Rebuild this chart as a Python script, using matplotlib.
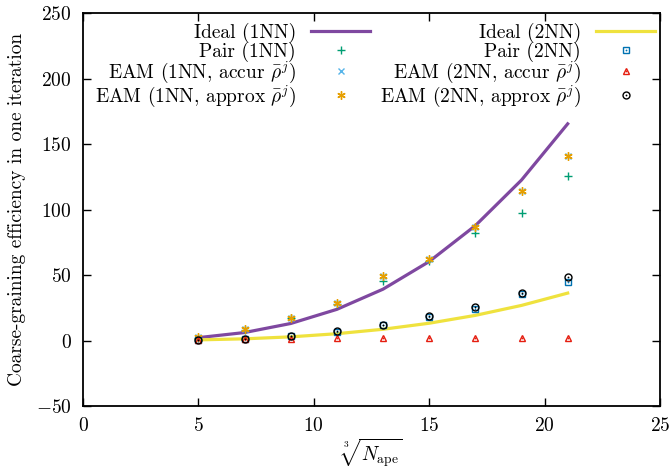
import matplotlib
matplotlib.use("Agg")
import matplotlib.pyplot as plt

plt.rcParams['font.family'] = ['cmr10']
plt.rcParams['mathtext.fontset'] = 'cm'
plt.rcParams['axes.formatter.use_mathtext'] = True
plt.rcParams['font.size'] = 14

# cube root of the number of atoms per element
n_root = [5, 7, 9, 11, 13, 15, 17, 19, 21]

ideal_1nn = [2.2, 6.1, 13.0, 23.8, 39.2, 60.3, 87.7, 122.5, 165.4]
pair_1nn = [2.0, 8.4, 17.0, 27.5, 45.8, 61.0, 82.4, 97.5, 125.4]
eam_1nn_accur = [3.0, 8.6, 17.2, 29.0, 49.4, 62.0, 86.8, 114.5, 140.5]
eam_1nn_approx = [3.0, 8.6, 17.2, 29.0, 49.4, 62.0, 86.8, 114.5, 140.5]

ideal_2nn = [0.5, 1.3, 2.8, 5.2, 8.6, 13.2, 19.2, 26.8, 36.2]
pair_2nn = [0.5, 1.0, 3.3, 6.4, 11.5, 18.3, 24.0, 35.4, 45.0]
eam_2nn_accur = [0.3, 0.8, 1.5, 1.6, 1.6, 1.6, 1.6, 1.6, 1.6]
eam_2nn_approx = [0.6, 1.5, 3.5, 7.0, 12.0, 18.5, 25.5, 36.0, 48.3]

fig = plt.figure(figsize=(6.71, 4.76), dpi=100)
ax = fig.add_axes([0.1237, 0.147, 0.8599, 0.8257])


def points(y, marker, color, ms=5, dot=False, **kw):
    h, = ax.plot(n_root, y, ls='none', marker=marker, ms=ms, mew=1,
                 color=color, **kw)
    if not dot:
        return h
    # small centre dot drawn inside open symbols
    d, = ax.plot(n_root, y, ls='none', marker='o', ms=1.3, mew=0, color=color)
    return (h, d)


h1, = ax.plot(n_root, ideal_1nn, color='#7f48a0', lw=2.3)
h2 = points(pair_1nn, '+', '#009e73', ms=6)
h3 = points(eam_1nn_accur, 'x', '#56b4e9', ms=4.5)
h4 = points(eam_1nn_approx, (6, 2, 0), '#e69f00', ms=6)
h5, = ax.plot(n_root, ideal_2nn, color='#efe23e', lw=2.3)
h6 = points(pair_2nn, 's', '#0072b2', ms=5, dot=True, mfc='none')
h7 = points(eam_2nn_accur, '^', '#e51e10', ms=5, dot=True, mfc='none')
h8 = points(eam_2nn_approx, 'o', 'black', ms=5, dot=True, mfc='none')

ax.set_xlim(0, 25)
ax.set_ylim(-50, 250)
ax.set_xticks([0, 5, 10, 15, 20, 25])
ax.set_yticks([-50, 0, 50, 100, 150, 200, 250])
ax.tick_params(direction='in', length=6, width=1, top=True, right=True, pad=8)
for s in ax.spines.values():
    s.set_linewidth(1.3)

ax.set_xlabel(r'$\sqrt[3]{N_{\mathrm{ape}}}$', labelpad=1)
ax.set_ylabel('Coarse-graining efficiency in one iteration', labelpad=7)

labels_1nn = ['Ideal (1NN)', 'Pair (1NN)',
              r'EAM (1NN, accur $\bar{\rho}^j$)', r'EAM (1NN, approx $\bar{\rho}^j$)']
labels_2nn = ['Ideal (2NN)', 'Pair (2NN)',
              r'EAM (2NN, accur $\bar{\rho}^j$)', r'EAM (2NN, approx $\bar{\rho}^j$)']

leg_opts = dict(loc='upper right', frameon=False, markerfirst=False,
                handlelength=3.0, handletextpad=0.8, labelspacing=-0.08,
                borderpad=0, borderaxespad=0, numpoints=1)
leg1 = ax.legend([h1, h2, h3, h4], labels_1nn,
                 bbox_to_anchor=(0.497, 0.975), **leg_opts)
ax.add_artist(leg1)
ax.legend([h5, h6, h7, h8], labels_2nn,
          bbox_to_anchor=(0.991, 0.975), **leg_opts)

fig.savefig('out.png', dpi=100)
